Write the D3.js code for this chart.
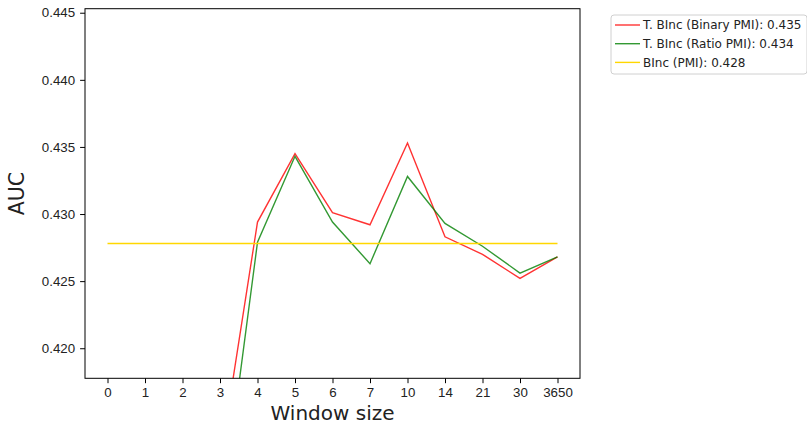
<!DOCTYPE html>
<html>
<head>
<meta charset="utf-8">
<script src="https://cdn.jsdelivr.net/npm/d3@7/dist/d3.min.js"></script>
<style>
  body { margin: 0; background: #fff; }
  svg { font-family: "DejaVu Sans", sans-serif; }
</style>
</head>
<body>
<svg id="chart" width="807" height="424"></svg>
<script>
// window sizes on the x axis (categorical, evenly spaced)
var windowSizes = ["0", "1", "2", "3", "4", "5", "6", "7", "10", "14", "21", "30", "3650"];

// AUC per window size (first four are below the visible range)
var binaryPMI = [0.4105, 0.4110, 0.4112, 0.4115, 0.4294, 0.4345, 0.4301, 0.4292, 0.4353, 0.4283, 0.4270, 0.4252, 0.4268];
var ratioPMI  = [0.4060, 0.4062, 0.4064, 0.4066, 0.4279, 0.4343, 0.4294, 0.4263, 0.4328, 0.4293, 0.4276, 0.4256, 0.4268];
var baseline  = [0.4278, 0.4278, 0.4278, 0.4278, 0.4278, 0.4278, 0.4278, 0.4278, 0.4278, 0.4278, 0.4278, 0.4278, 0.4278];

var yTicks = [0.420, 0.425, 0.430, 0.435, 0.440, 0.445];

var legendLabels = ["T. BInc (Binary PMI): 0.435", "T. BInc (Ratio PMI): 0.434", "BInc (PMI): 0.428"];

var svg = d3.select("#chart");

// plot area (note: "top" is a reserved window global, so use prefixed names)
var plotLeft = 85, plotRight = 580, plotTop = 8.7, plotBottom = 378.3;

var x = d3.scaleLinear()
    .domain([-0.6, windowSizes.length - 1 + 0.6])
    .range([plotLeft, plotRight]);

var y = d3.scaleLinear()
    .domain([0.41776, 0.4453])
    .range([plotBottom, plotTop]);

// clip the lines to the axes box
svg.append("clipPath")
    .attr("id", "plotclip")
  .append("rect")
    .attr("x", plotLeft)
    .attr("y", plotTop)
    .attr("width", plotRight - plotLeft)
    .attr("height", plotBottom - plotTop);

var line = d3.line()
    .x(function(d, i) { return x(i); })
    .y(function(d) { return y(d); });

var series = [
  { values: binaryPMI, color: "red", opacity: 0.8 },
  { values: ratioPMI, color: "green", opacity: 0.8 },
  { values: baseline, color: "gold", opacity: 1 }
];

var lines = svg.append("g").attr("clip-path", "url(#plotclip)");
series.forEach(function(s) {
  lines.append("path")
    .datum(s.values)
    .attr("d", line)
    .attr("fill", "none")
    .attr("stroke", s.color)
    .attr("stroke-opacity", s.opacity)
    .attr("stroke-width", 1.4);
});

// x axis
var xAxis = d3.axisBottom(x)
    .tickValues(d3.range(windowSizes.length))
    .tickFormat(function(i) { return windowSizes[i]; })
    .tickSize(4.9)
    .tickPadding(4.5)
    .tickSizeOuter(0);

var gx = svg.append("g")
    .attr("transform", "translate(0," + plotBottom + ")")
    .call(xAxis);
gx.select(".domain").remove();
gx.selectAll("text").style("font-size", "13.3px").attr("fill", "#222");
gx.selectAll("line").attr("stroke", "#000").attr("stroke-width", 1);

// y axis
var yAxis = d3.axisLeft(y)
    .tickValues(yTicks)
    .tickFormat(d3.format(".3f"))
    .tickSize(4.9)
    .tickPadding(5)
    .tickSizeOuter(0);

var gy = svg.append("g")
    .attr("transform", "translate(" + plotLeft + ",0)")
    .call(yAxis);
gy.select(".domain").remove();
gy.selectAll("text").style("font-size", "13.3px").attr("fill", "#222");
gy.selectAll("line").attr("stroke", "#000").attr("stroke-width", 1);

// axes frame
svg.append("rect")
    .attr("x", plotLeft)
    .attr("y", plotTop)
    .attr("width", plotRight - plotLeft)
    .attr("height", plotBottom - plotTop)
    .attr("fill", "none")
    .attr("stroke", "#000")
    .attr("stroke-width", 1);

// axis titles
svg.append("text")
    .attr("x", (plotLeft + plotRight) / 2)
    .attr("y", 420)
    .attr("text-anchor", "middle")
    .style("font-size", "20px")
    .attr("fill", "#222")
    .text("Window size");

svg.append("text")
    .attr("transform", "translate(24," + ((plotTop + plotBottom) / 2) + ") rotate(-90)")
    .attr("text-anchor", "middle")
    .style("font-size", "20.5px")
    .attr("fill", "#222")
    .text("AUC");

// legend
var legend = svg.append("g").attr("transform", "translate(611,15)");
legend.append("rect")
    .attr("width", 196)
    .attr("height", 59)
    .attr("rx", 3)
    .attr("fill", "#fff")
    .attr("stroke", "#d0d0d0")
    .attr("stroke-width", 1);

var rows = legend.selectAll("g.row")
    .data(series)
    .enter()
    .append("g")
    .attr("class", "row")
    .attr("transform", function(d, i) { return "translate(0," + (10 + i * 18.7) + ")"; });

rows.append("line")
    .attr("x1", 4)
    .attr("x2", 29)
    .attr("stroke", function(d) { return d.color; })
    .attr("stroke-opacity", function(d) { return d.opacity; })
    .attr("stroke-width", 1.4);

rows.append("text")
    .attr("x", 32)
    .attr("dy", "0.35em")
    .style("font-size", "12px")
    .attr("fill", "#222")
    .text(function(d, i) { return legendLabels[i]; });
</script>
</body>
</html>
